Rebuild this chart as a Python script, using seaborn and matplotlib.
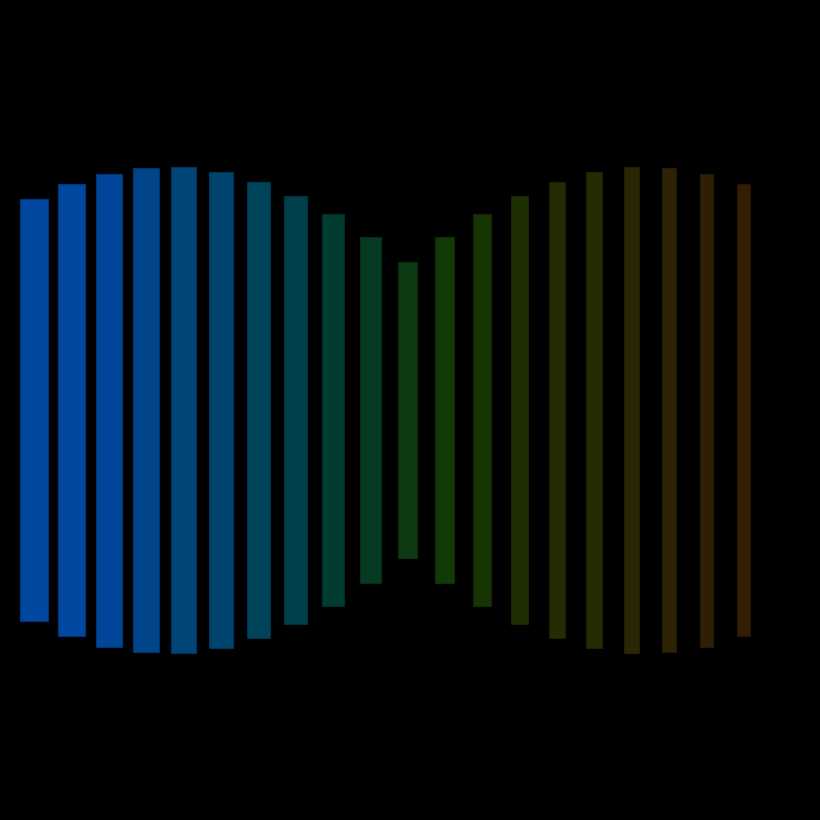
import matplotlib
matplotlib.use("Agg")
import matplotlib.pyplot as plt
import matplotlib.colors as mcolors
import numpy as np
import pandas as pd
import seaborn as sns

# half-height of each bar (bars are centred on zero)
bar_ids = list(range(20))
half_heights = [211, 226, 236.5, 242, 242.7, 238, 228.2, 214.2, 195.8, 173.4,
                147.6, 173.4, 195.8, 214.2, 228.2, 238, 242.7, 242, 236.5, 226]
bar_colors = ["#0047a0", "#0047a0", "#00479a", "#00458a", "#004578",
              "#004470", "#00445c", "#00404a", "#003c30", "#073a22",
              "#0d3a12", "#123a06", "#173405", "#1e3003", "#232c03",
              "#242c02", "#2a2804", "#2e2405", "#2f2005", "#331e04"]

df = pd.DataFrame({"bar": bar_ids, "h": half_heights})
df["span"] = 2 * df["h"]

sns.set_theme(style="dark", rc={"axes.facecolor": "black", "figure.facecolor": "black"})
fig = plt.figure(figsize=(10, 10), dpi=82)
ax = fig.add_axes([0, 0, 1, 1])

sns.barplot(data=df, x="bar", y="span", hue="bar", palette=bar_colors,
            saturation=1, legend=False, ax=ax, linewidth=1)

# bars get narrower left to right
widths = np.linspace(0.758, 0.332, len(bar_ids))
for i, cont in enumerate(ax.containers):
    for p in cont.patches:
        p.set_y(-half_heights[i])
        p.set_width(widths[i])
        p.set_x(i - widths[i] / 2)
        fc = np.array(mcolors.to_rgb(bar_colors[i]))
        p.set_edgecolor(fc * 0.75)

ax.set_xlim(-0.916, 21.05)
ax.set_ylim(-410, 410)
ax.set_axis_off()
fig.savefig("out.png", facecolor="black", dpi=82)
plt.close(fig)
